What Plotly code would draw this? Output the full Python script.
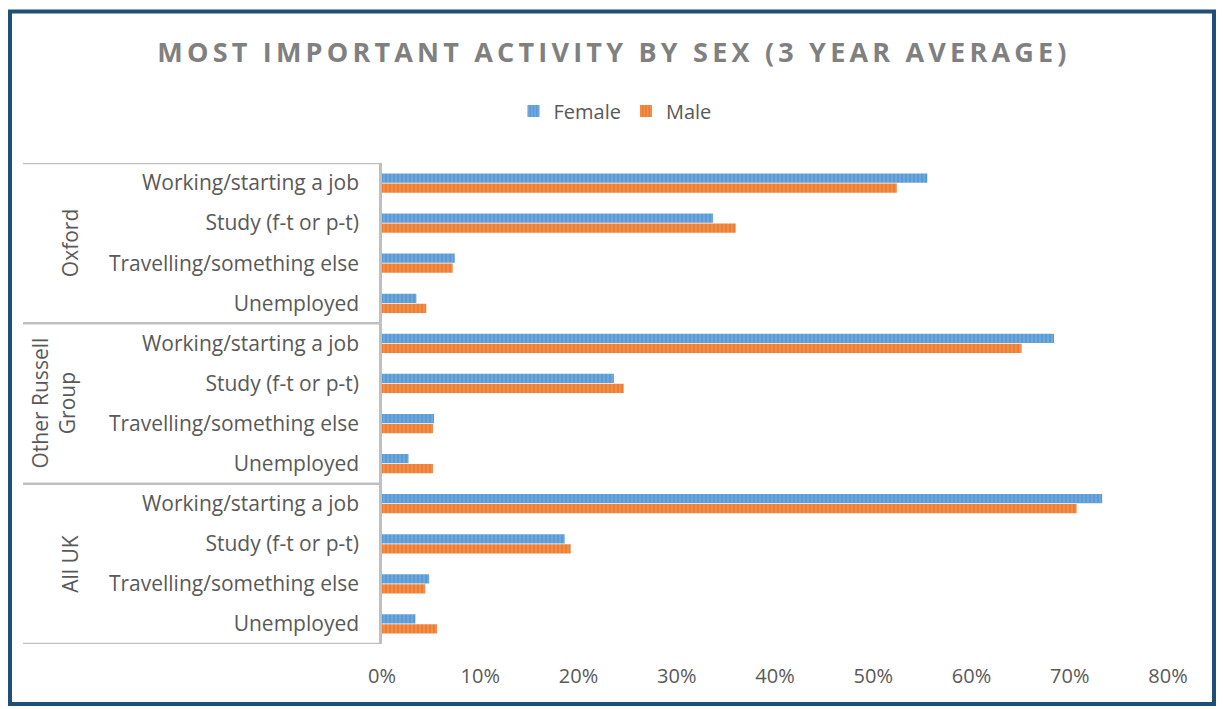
import plotly.graph_objects as go

groups = ["Oxford", "Other Russell<br>Group", "All UK"]
activities = ["Working/starting a job", "Study (f-t or p-t)", "Travelling/something else", "Unemployed"]

female = [0.555, 0.337, 0.074, 0.035,
          0.684, 0.236, 0.053, 0.027,
          0.733, 0.186, 0.048, 0.034]
male = [0.524, 0.360, 0.072, 0.045,
        0.651, 0.246, 0.052, 0.052,
        0.707, 0.192, 0.044, 0.056]

tick_vals = [0, 0.1, 0.2, 0.3, 0.4, 0.5, 0.6, 0.7, 0.8]

labels = [a for g in groups for a in activities]
pos = list(range(len(labels)))

W, H = 1223, 709
ML, MR, MT, MB = 382, 55, 163, 65
PW = W - ML - MR
PH = H - MT - MB

def px_x(p):
    return (p - ML) / PW

def px_y(p):
    return (H - MB - p) / PH

FONT = "Open Sans"
TXT = "#595959"
GRID = "#BFBFBF"

fig = go.Figure()
fig.add_trace(go.Bar(
    y=pos, x=female, orientation="h", name="Female",
    marker=dict(color="#5B9BD5", line=dict(width=0),
                pattern=dict(shape="|", size=4, solidity=0.4, fgcolor="#8DB9E3", bgcolor="#5B9BD5", fillmode="overlay")),
))
fig.add_trace(go.Bar(
    y=pos, x=male, orientation="h", name="Male",
    marker=dict(color="#ED7D31", line=dict(width=0),
                pattern=dict(shape="|", size=4, solidity=0.4, fgcolor="#F4A772", bgcolor="#ED7D31", fillmode="overlay")),
))

shapes = []
for yv in [-0.5, 3.5, 7.5, 11.5]:
    shapes.append(dict(type="line", xref="paper", yref="y", x0=px_x(23), x1=0, y0=yv, y1=yv,
                       line=dict(color=GRID, width=2.5)))
shapes.append(dict(type="rect", xref="paper", yref="paper",
                   x0=px_x(10), x1=px_x(1214), y0=px_y(704), y1=px_y(11.5),
                   line=dict(color="#1F4E79", width=4), layer="below"))

annotations = []
group_x = [70, 53, 70]
for i, g in enumerate(groups):
    annotations.append(dict(
        text=g, xref="paper", yref="y", x=px_x(group_x[i]), y=i * 4 + 1.5,
        textangle=-90, showarrow=False, xanchor="center", yanchor="middle",
        font=dict(family=FONT, size=21, color=TXT)))

title_text = ('<span style="letter-spacing:4.2px"><b>'
              'MOST IMPORTANT ACTIVITY BY SEX (3 YEAR AVERAGE)</b></span>')

fig.update_layout(
    width=W, height=H,
    margin=dict(l=ML, r=MR, t=MT, b=MB),
    paper_bgcolor="white", plot_bgcolor="white",
    barmode="group", bargap=0.5, bargroupgap=0.08,
    title=dict(text=title_text,
               x=614 / W, xanchor="center", y=1 - 53 / H, yanchor="middle",
               font=dict(family=FONT, size=27, color="#808080")),
    legend=dict(orientation="h", x=px_x(615), xanchor="center", y=px_y(111), yanchor="middle",
                font=dict(family=FONT, size=20, color=TXT), itemwidth=30, traceorder="normal"),
    xaxis=dict(range=[0, 0.8], tickvals=tick_vals, tickformat=".0%", showgrid=False,
               zeroline=False, showline=False, ticks="", ticklabelstandoff=18,
               tickfont=dict(family=FONT, size=20, color=TXT)),
    yaxis=dict(tickvals=pos, ticktext=labels, range=[11.5, -0.5], showgrid=False,
               zeroline=False, showline=True, linecolor=GRID, linewidth=2.5,
               ticks="", ticklabelstandoff=16,
               tickfont=dict(family=FONT, size=21, color=TXT)),
    shapes=shapes, annotations=annotations,
)

fig.write_html("out.html", config={"displayModeBar": False},
               post_script="document.body.style.margin='0';document.body.style.overflow='hidden';")
